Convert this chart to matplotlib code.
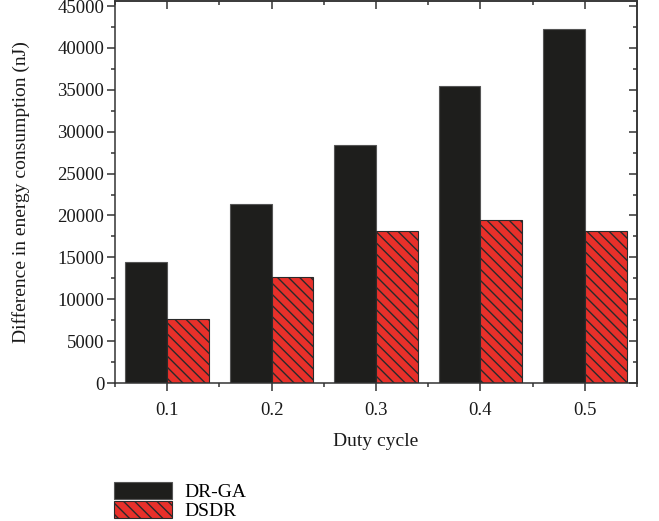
import matplotlib.pyplot as plt
import numpy as np
from matplotlib.ticker import MultipleLocator

# duty cycle groups and energy difference values (nJ)
duty = [0.1, 0.2, 0.3, 0.4, 0.5]
drga = [14400, 21400, 28400, 35400, 42300]
dsdr = [7600, 12600, 18200, 19500, 18200]

plt.rcParams['font.family'] = ['Liberation Serif', 'DejaVu Serif']
plt.rcParams['hatch.linewidth'] = 1.0
plt.rcParams['hatch.color'] = '#1e1e1c'

fig = plt.figure(figsize=(6.59, 5.21), dpi=100)
ax = fig.add_axes([115 / 659, 1 - 383 / 521, 522 / 659, 382 / 521])

x = np.array(duty)
w = 0.04
ax.bar(x - w / 2, drga, w, color='#1e1e1c', edgecolor='#555555', linewidth=0.8, label='DR-GA')
ax.bar(x + w / 2, dsdr, w, color='#e8302a', edgecolor='#2a2a2a', linewidth=0.8,
       hatch='\\\\\\', label='DSDR')

minor_x = [0.05, 0.15, 0.25, 0.35, 0.45, 0.55]

ax.set_xlim(0.05, 0.55)
ax.set_ylim(0, 45600)
ax.set_xticks(duty)
ax.set_xticklabels([str(d) for d in duty])
ax.xaxis.set_minor_locator(plt.FixedLocator(minor_x))
ax.yaxis.set_major_locator(MultipleLocator(5000))
ax.yaxis.set_minor_locator(MultipleLocator(2500))

for s in ax.spines.values():
    s.set_color('#333333')
    s.set_linewidth(1.1)

ax.tick_params(which='both', direction='out', colors='#333333', width=1.1,
               labelsize=13.5, labelcolor='#1a1a1a')
ax.tick_params(which='major', length=5.8)
ax.tick_params(which='minor', length=3)
ax.tick_params(axis='x', pad=8)
ax.tick_params(axis='y', pad=2)

# mirrored ticks pointing inward on the top and right
top = ax.secondary_xaxis('top')
top.set_xticks(duty)
top.xaxis.set_minor_locator(plt.FixedLocator(minor_x))
top.tick_params(which='both', direction='in', labeltop=False, colors='#333333', width=1.1)
top.tick_params(which='major', length=5.8)
top.tick_params(which='minor', length=3)
top.spines['top'].set_color('#333333')
top.spines['top'].set_linewidth(1.1)

right = ax.secondary_yaxis('right')
right.yaxis.set_major_locator(MultipleLocator(5000))
right.yaxis.set_minor_locator(MultipleLocator(2500))
right.tick_params(which='both', direction='in', labelright=False, colors='#333333', width=1.1)
right.tick_params(which='major', length=5.8)
right.tick_params(which='minor', length=3)
right.spines['right'].set_color('#333333')
right.spines['right'].set_linewidth(1.1)

ax.set_xlabel('Duty cycle', fontsize=14, labelpad=10, color='#1a1a1a')
ax.set_ylabel('Difference in energy consumption (nJ)', fontsize=14, labelpad=20, color='#1a1a1a')

fig.legend(loc='upper left', bbox_to_anchor=(112 / 659, 1 - 480 / 521), frameon=False,
           fontsize=14, handlelength=3.0, handleheight=0.95, labelspacing=0.0,
           handletextpad=0.6, borderaxespad=0, borderpad=0.1)

fig.savefig('out.png', dpi=100)
